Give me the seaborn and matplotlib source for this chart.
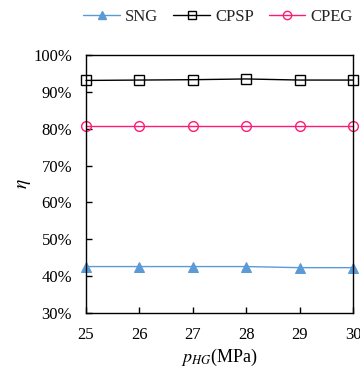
import matplotlib
matplotlib.use("Agg")
import matplotlib.pyplot as plt
import seaborn as sns
import pandas as pd
from matplotlib.ticker import PercentFormatter
from matplotlib.lines import Line2D

pressure = [25, 26, 27, 28, 29, 30]
sng = [42.6, 42.6, 42.6, 42.6, 42.3, 42.3]
cpsp = [93.1, 93.2, 93.3, 93.5, 93.2, 93.2]
cpeg = [80.8, 80.8, 80.8, 80.8, 80.8, 80.8]
series_names = ["SNG", "CPSP", "CPEG"]
y_ticks = [30, 40, 50, 60, 70, 80, 90, 100]

sns.set_theme(style="white")
plt.rcParams['font.family'] = ['Liberation Serif', 'DejaVu Serif']
plt.rcParams['mathtext.fontset'] = 'stix'

df = pd.DataFrame({
    "p": pressure * 3,
    "eta": sng + cpsp + cpeg,
    "series": [n for n in series_names for _ in pressure],
})

fig = plt.figure(figsize=(3.6, 3.7), dpi=100)
ax = fig.add_axes([86/360, 1 - 313/370, (353-86)/360, (313-55)/370])

palette = {"SNG": "#5B9BD5", "CPSP": "#000000", "CPEG": "#FF1A75"}
markers = {"SNG": "^", "CPSP": "s", "CPEG": "o"}
sns.lineplot(data=df, x="p", y="eta", hue="series", style="series",
             palette=palette, markers=markers, dashes=False, ax=ax,
             markersize=7, linewidth=1.0, legend=False)

for line, name in zip(ax.lines, series_names):
    line.set_clip_on(False)
    if name != "SNG":
        line.set_markerfacecolor("none")
        line.set_markeredgecolor(palette[name])
        line.set_markeredgewidth(1.0)
    else:
        line.set_markerfacecolor(palette[name])
        line.set_markeredgecolor(palette[name])

ax.set_xlim(25, 30)
ax.set_ylim(30, 100)
ax.set_yticks(y_ticks)
ax.set_xticks(pressure)
ax.yaxis.set_major_formatter(PercentFormatter(decimals=0))
ax.tick_params(direction="in", length=4, width=1, colors="black", labelsize=12,
               left=True, bottom=True, pad=10)
for s in ax.spines.values():
    s.set_color("black")
    s.set_linewidth(1.0)

ax.set_xlabel("$p_{HG}$(MPa)", fontsize=13, color="black", labelpad=3)
ax.set_ylabel("$\\eta$", fontsize=14, color="black", labelpad=0)

handles = []
for name in series_names:
    mfc = palette[name] if name == "SNG" else "none"
    handles.append(Line2D([], [], color=palette[name], marker=markers[name],
                          markerfacecolor=mfc, markeredgecolor=palette[name],
                          markersize=6, linewidth=1.0))
fig.legend(handles, series_names, loc="center", bbox_to_anchor=(0.606, 0.955),
           ncol=3, frameon=False, fontsize=12, handlelength=2.2,
           columnspacing=0.9, handletextpad=0.3)

fig.savefig("out.png", dpi=100)
